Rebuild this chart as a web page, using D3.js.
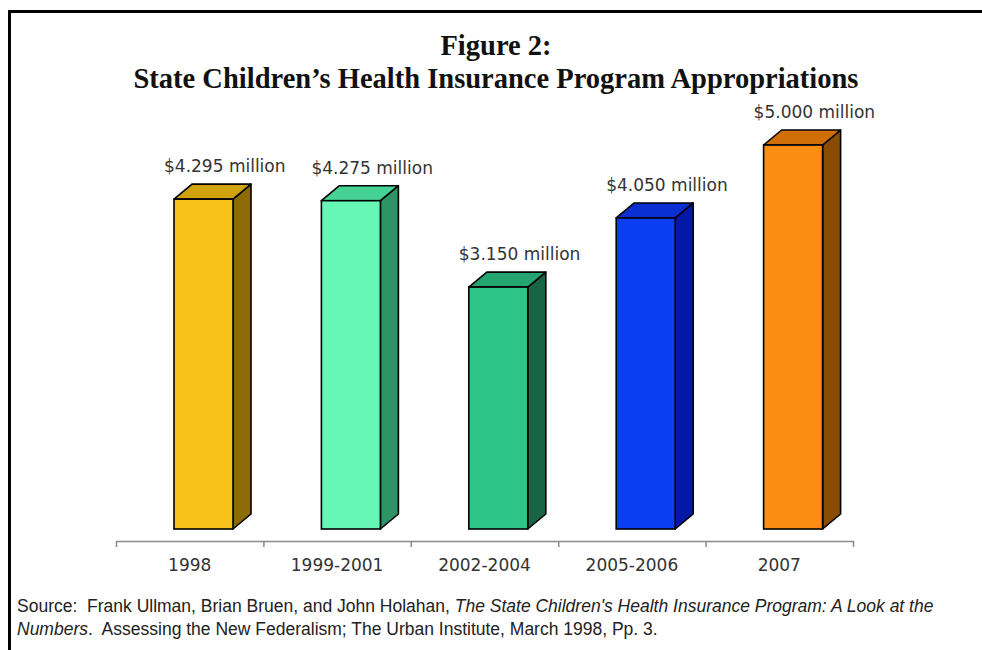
<!DOCTYPE html>
<html>
<head>
<meta charset="utf-8">
<script src="https://cdn.jsdelivr.net/npm/d3@7"></script>
<style>
  html, body { margin: 0; padding: 0; background: #fff; }
  svg { display: block; }
</style>
</head>
<body>
<svg id="chart" width="982" height="650"></svg>
<script>
// Appropriations by period, in millions of dollars (as printed on the labels)
const categories = ["1998", "1999-2001", "2002-2004", "2005-2006", "2007"];
const values = [4.295, 4.275, 3.150, 4.050, 5.000];
const frontColors = ["#F8C21B", "#66F7B6", "#2DC488", "#0B3DF2", "#FB8C14"];
const topColors   = ["#CFA20E", "#46D195", "#24A470", "#0A2FD2", "#D06E08"];
const sideColors  = ["#8C6B05", "#2E9365", "#1A6446", "#0418A6", "#8A4C02"];
const titleLines = ["Figure 2:", "State Children\u2019s Health Insurance Program Appropriations"];

const svg = d3.select("#chart");

// frame
svg.append("path")
  .attr("d", "M9.5,650 V11.5 H982")
  .attr("fill", "none").attr("stroke", "#000").attr("stroke-width", 3);

// title
svg.append("g").selectAll("text").data(titleLines).join("text")
  .attr("x", 496)
  .attr("y", (d, i) => 55 + i * 33)
  .attr("text-anchor", "middle")
  .attr("font-family", "'Liberation Serif', 'DejaVu Serif', serif")
  .attr("font-weight", "bold")
  .attr("font-size", 28.5)
  .attr("fill", "#111")
  .text(d => d);

// scales
const x = d3.scaleBand().domain(categories).range([116, 853]);
const y = d3.scaleLinear().domain([0, 5]).range([529, 145]);
const edge = d3.scaleLinear().domain([0, categories.length]).range([116, 853]);

const depthX = 18, depthY = 15, frontW = 59, inset = 58;

const bars = svg.append("g").selectAll("g").data(values).join("g");

bars.each(function(v, i) {
  const g = d3.select(this);
  const x0 = x(categories[i]) + inset, x1 = x0 + frontW;
  const yt = y(v), yb = y(0);
  // side face
  g.append("path")
    .attr("d", `M${x1},${yt} L${x1 + depthX},${yt - depthY} L${x1 + depthX},${yb - depthY} L${x1},${yb} Z`)
    .attr("fill", sideColors[i]).attr("stroke", "#000").attr("stroke-width", 1.6).attr("stroke-linejoin", "round");
  // top face
  g.append("path")
    .attr("d", `M${x0},${yt} L${x0 + depthX},${yt - depthY} L${x1 + depthX},${yt - depthY} L${x1},${yt} Z`)
    .attr("fill", topColors[i]).attr("stroke", "#000").attr("stroke-width", 1.6).attr("stroke-linejoin", "round");
  // front face
  g.append("rect")
    .attr("x", x0).attr("y", yt).attr("width", frontW).attr("height", yb - yt)
    .attr("fill", frontColors[i]).attr("stroke", "#000").attr("stroke-width", 1.6);
  // value label
  g.append("text")
    .attr("x", x0 - 10)
    .attr("y", yt - depthY - 12)
    .attr("font-family", "'DejaVu Sans', sans-serif")
    .attr("font-size", 17)
    .attr("fill", "#333")
    .text("$" + d3.format(".3f")(v) + " million");
});

// category axis: boundary ticks
const axisG = svg.append("g").attr("transform", "translate(0,541)");
axisG.call(d3.axisBottom(edge).tickValues(d3.range(categories.length + 1)).tickFormat("").tickSize(6).tickSizeOuter(0));
axisG.selectAll("line, path").attr("stroke", "#8a8a8a").attr("stroke-width", 1.5);

// category labels
const labG = svg.append("g").attr("transform", "translate(0,541)");
labG.call(d3.axisBottom(x).tickSize(0).tickPadding(18));
labG.select(".domain").remove();
labG.selectAll("text")
  .attr("font-family", "'DejaVu Sans', sans-serif")
  .attr("font-size", 17)
  .attr("fill", "#333");

// source note
const src = svg.append("g")
  .attr("font-family", "'Liberation Sans', Arial, sans-serif")
  .attr("font-size", 17.5)
  .attr("fill", "#222");
const l1 = src.append("text").attr("x", 17).attr("y", 612);
l1.append("tspan").text("Source:  Frank Ullman, Brian Bruen, and John Holahan, ");
l1.append("tspan").attr("font-style", "italic").text("The State Children's Health Insurance Program: A Look at the");
const l2 = src.append("text").attr("x", 17).attr("y", 635);
l2.append("tspan").attr("font-style", "italic").text("Numbers");
l2.append("tspan").text(".  Assessing the New Federalism; The Urban Institute, March 1998, Pp. 3.");
src.selectAll("text").style("white-space", "pre");
</script>
</body>
</html>
